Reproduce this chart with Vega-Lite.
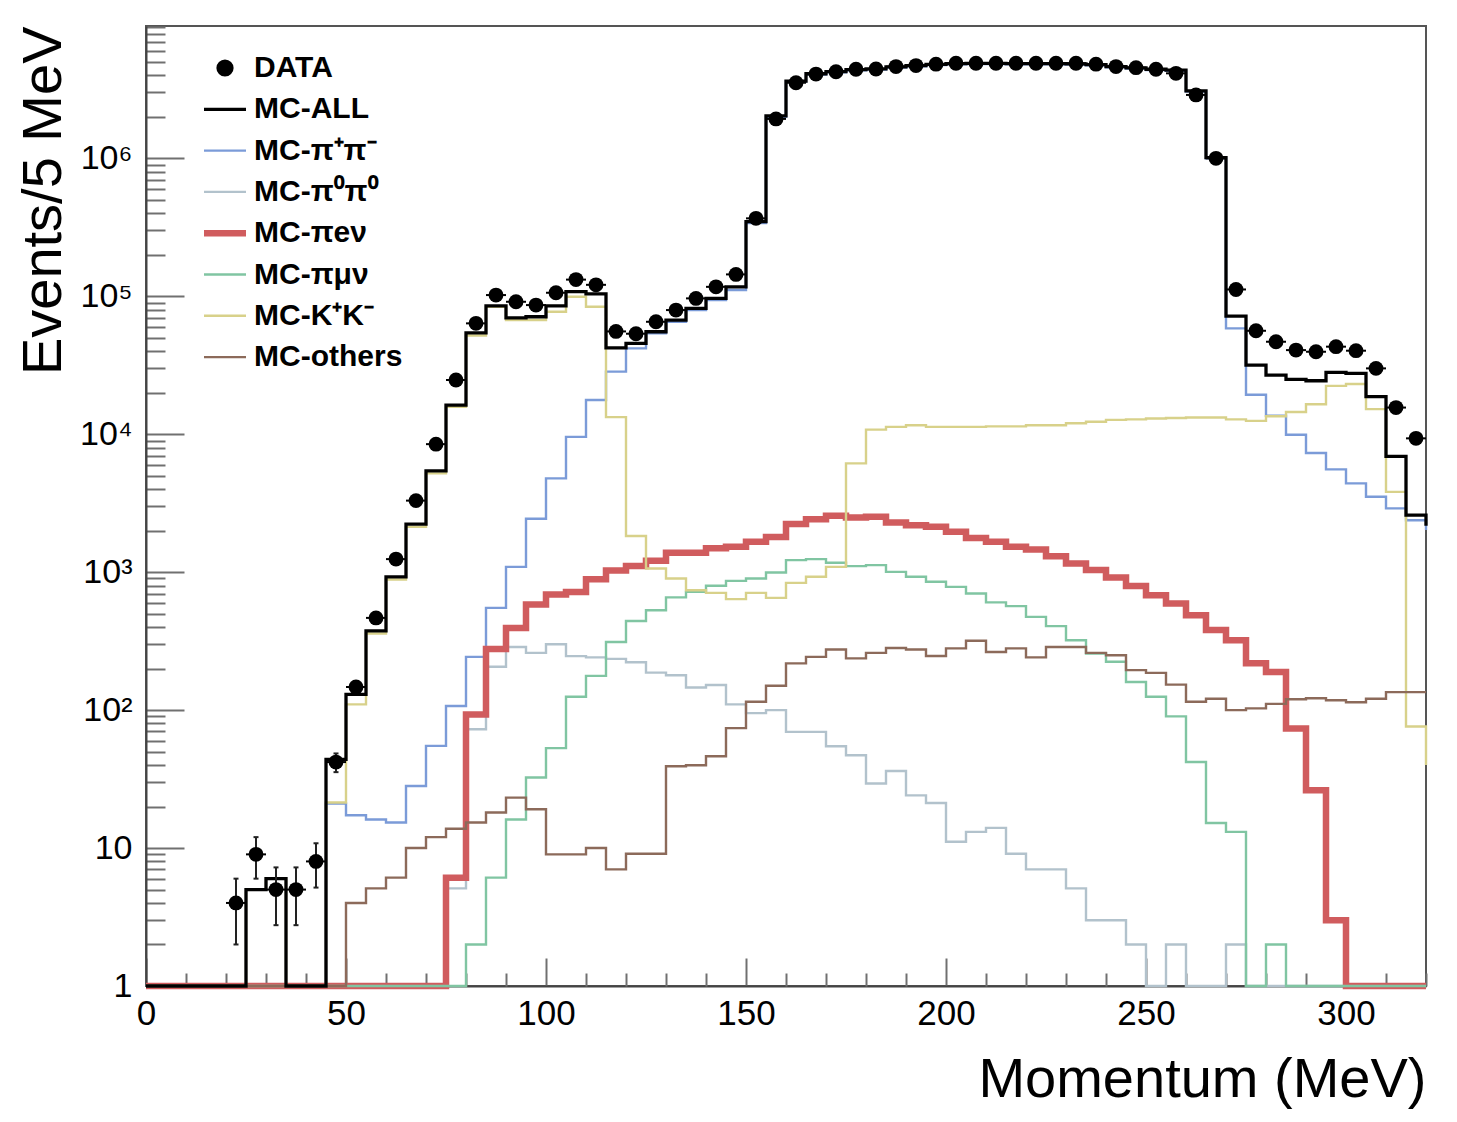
{
"$schema": "https://vega.github.io/schema/vega-lite/v6.json",
"width": 1280, "height": 960,
"autosize": {"type": "none"},
"padding": {"left": 146, "top": 26, "right": 31, "bottom": 136},
"background": "white",
"config": {
 "view": {"stroke": "#555555", "strokeWidth": 2},
 "font": "Liberation Sans",
 "axis": {"labelFont": "Liberation Sans", "labelFontSize": 35, "labelColor": "black", "titleFont": "Liberation Sans", "titleFontSize": 56, "titleFontWeight": "normal", "titleColor": "black", "tickColor": "#707070", "tickWidth": 2, "domainColor": "#444444", "domainWidth": 2, "grid": false, "labelOverlap": false, "labelFlush": false}
},
"resolve": {"axis": {"x": "independent"}},
"datasets": {
"hist": [
{"series":"MC-π⁺π⁻","p":0,"n":1},{"series":"MC-π⁺π⁻","p":5,"n":1},{"series":"MC-π⁺π⁻","p":10,"n":1},{"series":"MC-π⁺π⁻","p":15,"n":1},{"series":"MC-π⁺π⁻","p":20,"n":1},{"series":"MC-π⁺π⁻","p":25,"n":1},{"series":"MC-π⁺π⁻","p":30,"n":1},{"series":"MC-π⁺π⁻","p":35,"n":1},{"series":"MC-π⁺π⁻","p":40,"n":1},{"series":"MC-π⁺π⁻","p":45,"n":21},
{"series":"MC-π⁺π⁻","p":50,"n":17.3},{"series":"MC-π⁺π⁻","p":55,"n":16.1},{"series":"MC-π⁺π⁻","p":60,"n":15.3},{"series":"MC-π⁺π⁻","p":65,"n":28.2},{"series":"MC-π⁺π⁻","p":70,"n":55},{"series":"MC-π⁺π⁻","p":75,"n":107},{"series":"MC-π⁺π⁻","p":80,"n":243},{"series":"MC-π⁺π⁻","p":85,"n":551},{"series":"MC-π⁺π⁻","p":90,"n":1092},{"series":"MC-π⁺π⁻","p":95,"n":2440},
{"series":"MC-π⁺π⁻","p":100,"n":4780},{"series":"MC-π⁺π⁻","p":105,"n":9570},{"series":"MC-π⁺π⁻","p":110,"n":17700},{"series":"MC-π⁺π⁻","p":115,"n":28400},{"series":"MC-π⁺π⁻","p":120,"n":41900},{"series":"MC-π⁺π⁻","p":125,"n":53800},{"series":"MC-π⁺π⁻","p":130,"n":65300},{"series":"MC-π⁺π⁻","p":135,"n":79400},{"series":"MC-π⁺π⁻","p":140,"n":94000},{"series":"MC-π⁺π⁻","p":145,"n":111000},
{"series":"MC-π⁺π⁻","p":150,"n":340000},{"series":"MC-π⁺π⁻","p":155,"n":2000000},{"series":"MC-π⁺π⁻","p":160,"n":3600000},{"series":"MC-π⁺π⁻","p":165,"n":4050000},{"series":"MC-π⁺π⁻","p":170,"n":4200000},{"series":"MC-π⁺π⁻","p":175,"n":4350000},{"series":"MC-π⁺π⁻","p":180,"n":4400000},{"series":"MC-π⁺π⁻","p":185,"n":4550000},{"series":"MC-π⁺π⁻","p":190,"n":4650000},{"series":"MC-π⁺π⁻","p":195,"n":4750000},
{"series":"MC-π⁺π⁻","p":200,"n":4800000},{"series":"MC-π⁺π⁻","p":205,"n":4830000},{"series":"MC-π⁺π⁻","p":210,"n":4830000},{"series":"MC-π⁺π⁻","p":215,"n":4810000},{"series":"MC-π⁺π⁻","p":220,"n":4810000},{"series":"MC-π⁺π⁻","p":225,"n":4800000},{"series":"MC-π⁺π⁻","p":230,"n":4790000},{"series":"MC-π⁺π⁻","p":235,"n":4730000},{"series":"MC-π⁺π⁻","p":240,"n":4570000},{"series":"MC-π⁺π⁻","p":245,"n":4470000},
{"series":"MC-π⁺π⁻","p":250,"n":4370000},{"series":"MC-π⁺π⁻","p":255,"n":4300000},{"series":"MC-π⁺π⁻","p":260,"n":3050000},{"series":"MC-π⁺π⁻","p":265,"n":1000000},{"series":"MC-π⁺π⁻","p":270,"n":58500},{"series":"MC-π⁺π⁻","p":275,"n":19300},{"series":"MC-π⁺π⁻","p":280,"n":13600},{"series":"MC-π⁺π⁻","p":285,"n":9900},{"series":"MC-π⁺π⁻","p":290,"n":7300},{"series":"MC-π⁺π⁻","p":295,"n":5560},
{"series":"MC-π⁺π⁻","p":300,"n":4400},{"series":"MC-π⁺π⁻","p":305,"n":3520},{"series":"MC-π⁺π⁻","p":310,"n":2900},{"series":"MC-π⁺π⁻","p":315,"n":2380},{"series":"MC-π⁺π⁻","p":320,"n":2020},

{"series":"MC-π⁰π⁰","p":0,"n":1},{"series":"MC-π⁰π⁰","p":5,"n":1},{"series":"MC-π⁰π⁰","p":10,"n":1},{"series":"MC-π⁰π⁰","p":15,"n":1},{"series":"MC-π⁰π⁰","p":20,"n":1},{"series":"MC-π⁰π⁰","p":25,"n":1},{"series":"MC-π⁰π⁰","p":30,"n":1},{"series":"MC-π⁰π⁰","p":35,"n":1},{"series":"MC-π⁰π⁰","p":40,"n":1},{"series":"MC-π⁰π⁰","p":45,"n":1},
{"series":"MC-π⁰π⁰","p":50,"n":1},{"series":"MC-π⁰π⁰","p":55,"n":1},{"series":"MC-π⁰π⁰","p":60,"n":1},{"series":"MC-π⁰π⁰","p":65,"n":1},{"series":"MC-π⁰π⁰","p":70,"n":1},{"series":"MC-π⁰π⁰","p":75,"n":5.1},{"series":"MC-π⁰π⁰","p":80,"n":72.7},{"series":"MC-π⁰π⁰","p":85,"n":206},{"series":"MC-π⁰π⁰","p":90,"n":287},{"series":"MC-π⁰π⁰","p":95,"n":260},
{"series":"MC-π⁰π⁰","p":100,"n":300},{"series":"MC-π⁰π⁰","p":105,"n":246},{"series":"MC-π⁰π⁰","p":110,"n":241},{"series":"MC-π⁰π⁰","p":115,"n":235},{"series":"MC-π⁰π⁰","p":120,"n":222},{"series":"MC-π⁰π⁰","p":125,"n":187},{"series":"MC-π⁰π⁰","p":130,"n":179},{"series":"MC-π⁰π⁰","p":135,"n":146},{"series":"MC-π⁰π⁰","p":140,"n":152},{"series":"MC-π⁰π⁰","p":145,"n":110},
{"series":"MC-π⁰π⁰","p":150,"n":95},{"series":"MC-π⁰π⁰","p":155,"n":100},{"series":"MC-π⁰π⁰","p":160,"n":69.5},{"series":"MC-π⁰π⁰","p":165,"n":69.5},{"series":"MC-π⁰π⁰","p":170,"n":54.7},{"series":"MC-π⁰π⁰","p":175,"n":47.1},{"series":"MC-π⁰π⁰","p":180,"n":29.4},{"series":"MC-π⁰π⁰","p":185,"n":36.2},{"series":"MC-π⁰π⁰","p":190,"n":24.1},{"series":"MC-π⁰π⁰","p":195,"n":21.2},
{"series":"MC-π⁰π⁰","p":200,"n":11.1},{"series":"MC-π⁰π⁰","p":205,"n":13.1},{"series":"MC-π⁰π⁰","p":210,"n":14},{"series":"MC-π⁰π⁰","p":215,"n":9.1},{"series":"MC-π⁰π⁰","p":220,"n":7},{"series":"MC-π⁰π⁰","p":225,"n":7},{"series":"MC-π⁰π⁰","p":230,"n":5.1},{"series":"MC-π⁰π⁰","p":235,"n":3},{"series":"MC-π⁰π⁰","p":240,"n":3},{"series":"MC-π⁰π⁰","p":245,"n":2},
{"series":"MC-π⁰π⁰","p":250,"n":1},{"series":"MC-π⁰π⁰","p":255,"n":2},{"series":"MC-π⁰π⁰","p":260,"n":1},{"series":"MC-π⁰π⁰","p":265,"n":1},{"series":"MC-π⁰π⁰","p":270,"n":2},{"series":"MC-π⁰π⁰","p":275,"n":1},{"series":"MC-π⁰π⁰","p":280,"n":1},{"series":"MC-π⁰π⁰","p":285,"n":1},{"series":"MC-π⁰π⁰","p":290,"n":1},{"series":"MC-π⁰π⁰","p":295,"n":1},
{"series":"MC-π⁰π⁰","p":300,"n":1},{"series":"MC-π⁰π⁰","p":305,"n":1},{"series":"MC-π⁰π⁰","p":310,"n":1},{"series":"MC-π⁰π⁰","p":315,"n":1},{"series":"MC-π⁰π⁰","p":320,"n":1},

{"series":"MC-πeν","p":0,"n":1},{"series":"MC-πeν","p":5,"n":1},{"series":"MC-πeν","p":10,"n":1},{"series":"MC-πeν","p":15,"n":1},{"series":"MC-πeν","p":20,"n":1},{"series":"MC-πeν","p":25,"n":1},{"series":"MC-πeν","p":30,"n":1},{"series":"MC-πeν","p":35,"n":1},{"series":"MC-πeν","p":40,"n":1},{"series":"MC-πeν","p":45,"n":1},
{"series":"MC-πeν","p":50,"n":1},{"series":"MC-πeν","p":55,"n":1},{"series":"MC-πeν","p":60,"n":1},{"series":"MC-πeν","p":65,"n":1},{"series":"MC-πeν","p":70,"n":1},{"series":"MC-πeν","p":75,"n":6.1},{"series":"MC-πeν","p":80,"n":93},{"series":"MC-πeν","p":85,"n":277},{"series":"MC-πeν","p":90,"n":394},{"series":"MC-πeν","p":95,"n":583},
{"series":"MC-πeν","p":100,"n":689},{"series":"MC-πeν","p":105,"n":719},{"series":"MC-πeν","p":110,"n":890},{"series":"MC-πeν","p":115,"n":1030},{"series":"MC-πeν","p":120,"n":1110},{"series":"MC-πeν","p":125,"n":1210},{"series":"MC-πeν","p":130,"n":1380},{"series":"MC-πeν","p":135,"n":1380},{"series":"MC-πeν","p":140,"n":1490},{"series":"MC-πeν","p":145,"n":1530},
{"series":"MC-πeν","p":150,"n":1660},{"series":"MC-πeν","p":155,"n":1800},{"series":"MC-πeν","p":160,"n":2230},{"series":"MC-πeν","p":165,"n":2420},{"series":"MC-πeν","p":170,"n":2560},{"series":"MC-πeν","p":175,"n":2490},{"series":"MC-πeν","p":180,"n":2520},{"series":"MC-πeν","p":185,"n":2290},{"series":"MC-πeν","p":190,"n":2190},{"series":"MC-πeν","p":195,"n":2130},
{"series":"MC-πeν","p":200,"n":1960},{"series":"MC-πeν","p":205,"n":1770},{"series":"MC-πeν","p":210,"n":1660},{"series":"MC-πeν","p":215,"n":1530},{"series":"MC-πeν","p":220,"n":1460},{"series":"MC-πeν","p":225,"n":1306},{"series":"MC-πeν","p":230,"n":1156},{"series":"MC-πeν","p":235,"n":1035},{"series":"MC-πeν","p":240,"n":915},{"series":"MC-πeν","p":245,"n":792},
{"series":"MC-πeν","p":250,"n":681},{"series":"MC-πeν","p":255,"n":593},{"series":"MC-πeν","p":260,"n":488},{"series":"MC-πeν","p":265,"n":380},{"series":"MC-πeν","p":270,"n":321},{"series":"MC-πeν","p":275,"n":219},{"series":"MC-πeν","p":280,"n":189},{"series":"MC-πeν","p":285,"n":73.5},{"series":"MC-πeν","p":290,"n":26.2},{"series":"MC-πeν","p":295,"n":3},
{"series":"MC-πeν","p":300,"n":1},{"series":"MC-πeν","p":305,"n":1},{"series":"MC-πeν","p":310,"n":1},{"series":"MC-πeν","p":315,"n":1},{"series":"MC-πeν","p":320,"n":1},

{"series":"MC-πμν","p":0,"n":1},{"series":"MC-πμν","p":5,"n":1},{"series":"MC-πμν","p":10,"n":1},{"series":"MC-πμν","p":15,"n":1},{"series":"MC-πμν","p":20,"n":1},{"series":"MC-πμν","p":25,"n":1},{"series":"MC-πμν","p":30,"n":1},{"series":"MC-πμν","p":35,"n":1},{"series":"MC-πμν","p":40,"n":1},{"series":"MC-πμν","p":45,"n":1},
{"series":"MC-πμν","p":50,"n":1},{"series":"MC-πμν","p":55,"n":1},{"series":"MC-πμν","p":60,"n":1},{"series":"MC-πμν","p":65,"n":1},{"series":"MC-πμν","p":70,"n":1},{"series":"MC-πμν","p":75,"n":1},{"series":"MC-πμν","p":80,"n":2},{"series":"MC-πμν","p":85,"n":6.1},{"series":"MC-πμν","p":90,"n":16.1},{"series":"MC-πμν","p":95,"n":32.5},
{"series":"MC-πμν","p":100,"n":53},{"series":"MC-πμν","p":105,"n":125},{"series":"MC-πμν","p":110,"n":177},{"series":"MC-πμν","p":115,"n":312},{"series":"MC-πμν","p":120,"n":443},{"series":"MC-πμν","p":125,"n":530},{"series":"MC-πμν","p":130,"n":656},{"series":"MC-πμν","p":135,"n":720},{"series":"MC-πμν","p":140,"n":796},{"series":"MC-πμν","p":145,"n":865},
{"series":"MC-πμν","p":150,"n":900},{"series":"MC-πμν","p":155,"n":994},{"series":"MC-πμν","p":160,"n":1222},{"series":"MC-πμν","p":165,"n":1243},{"series":"MC-πμν","p":170,"n":1169},{"series":"MC-πμν","p":175,"n":1105},{"series":"MC-πμν","p":180,"n":1124},{"series":"MC-πμν","p":185,"n":1005},{"series":"MC-πμν","p":190,"n":925},{"series":"MC-πμν","p":195,"n":851},
{"series":"MC-πμν","p":200,"n":782},{"series":"MC-πμν","p":205,"n":700},{"series":"MC-πμν","p":210,"n":604},{"series":"MC-πμν","p":215,"n":567},{"series":"MC-πμν","p":220,"n":474},{"series":"MC-πμν","p":225,"n":406},{"series":"MC-πμν","p":230,"n":321},{"series":"MC-πμν","p":235,"n":257},{"series":"MC-πμν","p":240,"n":224},{"series":"MC-πμν","p":245,"n":160},
{"series":"MC-πμν","p":250,"n":125},{"series":"MC-πμν","p":255,"n":90},{"series":"MC-πμν","p":260,"n":42},{"series":"MC-πμν","p":265,"n":15.2},{"series":"MC-πμν","p":270,"n":13.1},{"series":"MC-πμν","p":275,"n":1},{"series":"MC-πμν","p":280,"n":2},{"series":"MC-πμν","p":285,"n":1},{"series":"MC-πμν","p":290,"n":1},{"series":"MC-πμν","p":295,"n":1},
{"series":"MC-πμν","p":300,"n":1},{"series":"MC-πμν","p":305,"n":1},{"series":"MC-πμν","p":310,"n":1},{"series":"MC-πμν","p":315,"n":1},{"series":"MC-πμν","p":320,"n":1},

{"series":"MC-K⁺K⁻","p":0,"n":1},{"series":"MC-K⁺K⁻","p":5,"n":1},{"series":"MC-K⁺K⁻","p":10,"n":1},{"series":"MC-K⁺K⁻","p":15,"n":1},{"series":"MC-K⁺K⁻","p":20,"n":1},{"series":"MC-K⁺K⁻","p":25,"n":5},{"series":"MC-K⁺K⁻","p":30,"n":6},{"series":"MC-K⁺K⁻","p":35,"n":1},{"series":"MC-K⁺K⁻","p":40,"n":1},{"series":"MC-K⁺K⁻","p":45,"n":21.4},
{"series":"MC-K⁺K⁻","p":50,"n":110},{"series":"MC-K⁺K⁻","p":55,"n":359},{"series":"MC-K⁺K⁻","p":60,"n":885},{"series":"MC-K⁺K⁻","p":65,"n":2130},{"series":"MC-K⁺K⁻","p":70,"n":5200},{"series":"MC-K⁺K⁻","p":75,"n":15800},{"series":"MC-K⁺K⁻","p":80,"n":52000},{"series":"MC-K⁺K⁻","p":85,"n":84000},{"series":"MC-K⁺K⁻","p":90,"n":67200},{"series":"MC-K⁺K⁻","p":95,"n":67200},
{"series":"MC-K⁺K⁻","p":100,"n":77200},{"series":"MC-K⁺K⁻","p":105,"n":99100},{"series":"MC-K⁺K⁻","p":110,"n":84000},{"series":"MC-K⁺K⁻","p":115,"n":13300},{"series":"MC-K⁺K⁻","p":120,"n":1830},{"series":"MC-K⁺K⁻","p":125,"n":1064},{"series":"MC-K⁺K⁻","p":130,"n":900},{"series":"MC-K⁺K⁻","p":135,"n":740},{"series":"MC-K⁺K⁻","p":140,"n":708},{"series":"MC-K⁺K⁻","p":145,"n":637},
{"series":"MC-K⁺K⁻","p":150,"n":708},{"series":"MC-K⁺K⁻","p":155,"n":651},{"series":"MC-K⁺K⁻","p":160,"n":836},{"series":"MC-K⁺K⁻","p":165,"n":925},{"series":"MC-K⁺K⁻","p":170,"n":1092},{"series":"MC-K⁺K⁻","p":175,"n":6140},{"series":"MC-K⁺K⁻","p":180,"n":10800},{"series":"MC-K⁺K⁻","p":185,"n":11300},{"series":"MC-K⁺K⁻","p":190,"n":11600},{"series":"MC-K⁺K⁻","p":195,"n":11300},
{"series":"MC-K⁺K⁻","p":200,"n":11300},{"series":"MC-K⁺K⁻","p":205,"n":11300},{"series":"MC-K⁺K⁻","p":210,"n":11400},{"series":"MC-K⁺K⁻","p":215,"n":11400},{"series":"MC-K⁺K⁻","p":220,"n":11600},{"series":"MC-K⁺K⁻","p":225,"n":11600},{"series":"MC-K⁺K⁻","p":230,"n":12000},{"series":"MC-K⁺K⁻","p":235,"n":12300},{"series":"MC-K⁺K⁻","p":240,"n":12700},{"series":"MC-K⁺K⁻","p":245,"n":12800},
{"series":"MC-K⁺K⁻","p":250,"n":13000},{"series":"MC-K⁺K⁻","p":255,"n":13100},{"series":"MC-K⁺K⁻","p":260,"n":13200},{"series":"MC-K⁺K⁻","p":265,"n":13200},{"series":"MC-K⁺K⁻","p":270,"n":12800},{"series":"MC-K⁺K⁻","p":275,"n":12500},{"series":"MC-K⁺K⁻","p":280,"n":13500},{"series":"MC-K⁺K⁻","p":285,"n":14500},{"series":"MC-K⁺K⁻","p":290,"n":16500},{"series":"MC-K⁺K⁻","p":295,"n":22400},
{"series":"MC-K⁺K⁻","p":300,"n":23100},{"series":"MC-K⁺K⁻","p":305,"n":15200},{"series":"MC-K⁺K⁻","p":310,"n":3820},{"series":"MC-K⁺K⁻","p":315,"n":76},{"series":"MC-K⁺K⁻","p":320,"n":40},

{"series":"MC-others","p":0,"n":1},{"series":"MC-others","p":5,"n":1},{"series":"MC-others","p":10,"n":1},{"series":"MC-others","p":15,"n":1},{"series":"MC-others","p":20,"n":1},{"series":"MC-others","p":25,"n":1},{"series":"MC-others","p":30,"n":1},{"series":"MC-others","p":35,"n":1},{"series":"MC-others","p":40,"n":1},{"series":"MC-others","p":45,"n":1},
{"series":"MC-others","p":50,"n":4},{"series":"MC-others","p":55,"n":5.1},{"series":"MC-others","p":60,"n":6.1},{"series":"MC-others","p":65,"n":10},{"series":"MC-others","p":70,"n":12},{"series":"MC-others","p":75,"n":13.8},{"series":"MC-others","p":80,"n":15.3},{"series":"MC-others","p":85,"n":18.1},{"series":"MC-others","p":90,"n":23.2},{"series":"MC-others","p":95,"n":19.1},
{"series":"MC-others","p":100,"n":9},{"series":"MC-others","p":105,"n":9},{"series":"MC-others","p":110,"n":10},{"series":"MC-others","p":115,"n":7},{"series":"MC-others","p":120,"n":9.1},{"series":"MC-others","p":125,"n":9.1},{"series":"MC-others","p":130,"n":39.2},{"series":"MC-others","p":135,"n":39.8},{"series":"MC-others","p":140,"n":46.3},{"series":"MC-others","p":145,"n":74},
{"series":"MC-others","p":150,"n":115},{"series":"MC-others","p":155,"n":150},{"series":"MC-others","p":160,"n":218},{"series":"MC-others","p":165,"n":243},{"series":"MC-others","p":170,"n":275},{"series":"MC-others","p":175,"n":237},{"series":"MC-others","p":180,"n":260},{"series":"MC-others","p":185,"n":282},{"series":"MC-others","p":190,"n":275},{"series":"MC-others","p":195,"n":247},
{"series":"MC-others","p":200,"n":280},{"series":"MC-others","p":205,"n":318},{"series":"MC-others","p":210,"n":264},{"series":"MC-others","p":215,"n":280},{"series":"MC-others","p":220,"n":241},{"series":"MC-others","p":225,"n":287},{"series":"MC-others","p":230,"n":287},{"series":"MC-others","p":235,"n":260},{"series":"MC-others","p":240,"n":250},{"series":"MC-others","p":245,"n":195},
{"series":"MC-others","p":250,"n":186},{"series":"MC-others","p":255,"n":153},{"series":"MC-others","p":260,"n":115},{"series":"MC-others","p":265,"n":121},{"series":"MC-others","p":270,"n":100},{"series":"MC-others","p":275,"n":103},{"series":"MC-others","p":280,"n":111},{"series":"MC-others","p":285,"n":120},{"series":"MC-others","p":290,"n":122},{"series":"MC-others","p":295,"n":118},
{"series":"MC-others","p":300,"n":114},{"series":"MC-others","p":305,"n":121},{"series":"MC-others","p":310,"n":135},{"series":"MC-others","p":315,"n":135},{"series":"MC-others","p":320,"n":135},

{"series":"MC-ALL","p":0,"n":1},{"series":"MC-ALL","p":5,"n":1},{"series":"MC-ALL","p":10,"n":1},{"series":"MC-ALL","p":15,"n":1},{"series":"MC-ALL","p":20,"n":1},{"series":"MC-ALL","p":25,"n":5},{"series":"MC-ALL","p":30,"n":6},{"series":"MC-ALL","p":35,"n":1},{"series":"MC-ALL","p":40,"n":1},{"series":"MC-ALL","p":45,"n":44},
{"series":"MC-ALL","p":50,"n":130},{"series":"MC-ALL","p":55,"n":375},{"series":"MC-ALL","p":60,"n":925},{"series":"MC-ALL","p":65,"n":2230},{"series":"MC-ALL","p":70,"n":5430},{"series":"MC-ALL","p":75,"n":16250},{"series":"MC-ALL","p":80,"n":54300},{"series":"MC-ALL","p":85,"n":85300},{"series":"MC-ALL","p":90,"n":69800},{"series":"MC-ALL","p":95,"n":71000},
{"series":"MC-ALL","p":100,"n":85300},{"series":"MC-ALL","p":105,"n":108000},{"series":"MC-ALL","p":110,"n":104000},{"series":"MC-ALL","p":115,"n":42300},{"series":"MC-ALL","p":120,"n":45500},{"series":"MC-ALL","p":125,"n":55300},{"series":"MC-ALL","p":130,"n":67200},{"series":"MC-ALL","p":135,"n":81700},{"series":"MC-ALL","p":140,"n":96500},{"series":"MC-ALL","p":145,"n":117000},
{"series":"MC-ALL","p":150,"n":347000},{"series":"MC-ALL","p":155,"n":2030000},{"series":"MC-ALL","p":160,"n":3630000},{"series":"MC-ALL","p":165,"n":4100000},{"series":"MC-ALL","p":170,"n":4250000},{"series":"MC-ALL","p":175,"n":4400000},{"series":"MC-ALL","p":180,"n":4450000},{"series":"MC-ALL","p":185,"n":4600000},{"series":"MC-ALL","p":190,"n":4700000},{"series":"MC-ALL","p":195,"n":4800000},
{"series":"MC-ALL","p":200,"n":4850000},{"series":"MC-ALL","p":205,"n":4880000},{"series":"MC-ALL","p":210,"n":4880000},{"series":"MC-ALL","p":215,"n":4860000},{"series":"MC-ALL","p":220,"n":4860000},{"series":"MC-ALL","p":225,"n":4850000},{"series":"MC-ALL","p":230,"n":4840000},{"series":"MC-ALL","p":235,"n":4780000},{"series":"MC-ALL","p":240,"n":4620000},{"series":"MC-ALL","p":245,"n":4520000},
{"series":"MC-ALL","p":250,"n":4420000},{"series":"MC-ALL","p":255,"n":4350000},{"series":"MC-ALL","p":260,"n":3080000},{"series":"MC-ALL","p":265,"n":1010000},{"series":"MC-ALL","p":270,"n":71800},{"series":"MC-ALL","p":275,"n":31700},{"series":"MC-ALL","p":280,"n":26800},{"series":"MC-ALL","p":285,"n":25000},{"series":"MC-ALL","p":290,"n":24400},{"series":"MC-ALL","p":295,"n":28100},
{"series":"MC-ALL","p":300,"n":27600},{"series":"MC-ALL","p":305,"n":18700},{"series":"MC-ALL","p":310,"n":6900},{"series":"MC-ALL","p":315,"n":2590},{"series":"MC-ALL","p":320,"n":2170}
],
"pts": [
{"p":22.5,"pl":20,"pr":25,"n":4,"lo":2,"hi":6},
{"p":27.5,"pl":25,"pr":30,"n":9,"lo":6,"hi":12},
{"p":32.5,"pl":30,"pr":35,"n":5,"lo":2.76,"hi":7.24},
{"p":37.5,"pl":35,"pr":40,"n":5,"lo":2.76,"hi":7.24},
{"p":42.5,"pl":40,"pr":45,"n":8,"lo":5.17,"hi":10.83},
{"p":47.5,"pl":45,"pr":50,"n":42,"lo":35.5,"hi":48.5},
{"p":52.5,"pl":50,"pr":55,"n":147},
{"p":57.5,"pl":55,"pr":60,"n":466},
{"p":62.5,"pl":60,"pr":65,"n":1243},
{"p":67.5,"pl":65,"pr":70,"n":3300},
{"p":72.5,"pl":70,"pr":75,"n":8470},
{"p":77.5,"pl":75,"pr":80,"n":24700},
{"p":82.5,"pl":80,"pr":85,"n":63600},
{"p":87.5,"pl":85,"pr":90,"n":102000},
{"p":92.5,"pl":90,"pr":95,"n":91200},
{"p":97.5,"pl":95,"pr":100,"n":86300},
{"p":102.5,"pl":100,"pr":105,"n":106000},
{"p":107.5,"pl":105,"pr":110,"n":132000},
{"p":112.5,"pl":110,"pr":115,"n":121000},
{"p":117.5,"pl":115,"pr":120,"n":55600},
{"p":122.5,"pl":120,"pr":125,"n":53500},
{"p":127.5,"pl":125,"pr":130,"n":65300},
{"p":132.5,"pl":130,"pr":135,"n":79400},
{"p":137.5,"pl":135,"pr":140,"n":96500},
{"p":142.5,"pl":140,"pr":145,"n":117000},
{"p":147.5,"pl":145,"pr":150,"n":144000},
{"p":152.5,"pl":150,"pr":155,"n":367000},
{"p":157.5,"pl":155,"pr":160,"n":1930000},
{"p":162.5,"pl":160,"pr":165,"n":3530000},
{"p":167.5,"pl":165,"pr":170,"n":4080000},
{"p":172.5,"pl":170,"pr":175,"n":4240000},
{"p":177.5,"pl":175,"pr":180,"n":4420000},
{"p":182.5,"pl":180,"pr":185,"n":4440000},
{"p":187.5,"pl":185,"pr":190,"n":4620000},
{"p":192.5,"pl":190,"pr":195,"n":4700000},
{"p":197.5,"pl":195,"pr":200,"n":4810000},
{"p":202.5,"pl":200,"pr":205,"n":4890000},
{"p":207.5,"pl":205,"pr":210,"n":4890000},
{"p":212.5,"pl":210,"pr":215,"n":4890000},
{"p":217.5,"pl":215,"pr":220,"n":4890000},
{"p":222.5,"pl":220,"pr":225,"n":4890000},
{"p":227.5,"pl":225,"pr":230,"n":4890000},
{"p":232.5,"pl":230,"pr":235,"n":4890000},
{"p":237.5,"pl":235,"pr":240,"n":4810000},
{"p":242.5,"pl":240,"pr":245,"n":4620000},
{"p":247.5,"pl":245,"pr":250,"n":4540000},
{"p":252.5,"pl":250,"pr":255,"n":4420000},
{"p":257.5,"pl":255,"pr":260,"n":4130000},
{"p":262.5,"pl":260,"pr":265,"n":2880000},
{"p":267.5,"pl":265,"pr":270,"n":1000000},
{"p":272.5,"pl":270,"pr":275,"n":112000},
{"p":277.5,"pl":275,"pr":280,"n":56200},
{"p":282.5,"pl":280,"pr":285,"n":46800},
{"p":287.5,"pl":285,"pr":290,"n":40700},
{"p":292.5,"pl":290,"pr":295,"n":39600},
{"p":297.5,"pl":295,"pr":300,"n":43100},
{"p":302.5,"pl":300,"pr":305,"n":40300},
{"p":307.5,"pl":305,"pr":310,"n":30000},
{"p":312.5,"pl":310,"pr":315,"n":15600},
{"p":317.5,"pl":315,"pr":320,"n":9330}
]
},
"layer": [
{
 "data": {"name": "hist"},
 "mark": {"type": "line", "interpolate": "step-after"},
 "encoding": {
  "x": {"field": "p", "type": "quantitative",
   "scale": {"domain": [0, 320], "nice": false, "zero": false},
   "axis": {"orient": "bottom", "title": "Momentum (MeV)", "titleAnchor": "end", "titlePadding": 21,
    "values": [0,50,100,150,200,250,300],
    "tickSize": -28, "format": "d",
    "labelOverlap": false, "labelFlush": false,
    "labelPadding": 38}},
  "y": {"field": "n", "type": "quantitative",
   "scale": {"type": "log", "domain": [1, 9100000], "nice": false},
   "axis": {"title": "Events/5 MeV", "titleAnchor": "end", "titlePadding": 7,
    "values": [1,2,3,4,5,6,7,8,9,10,20,30,40,50,60,70,80,90,100,200,300,400,500,600,700,800,900,1000,2000,3000,4000,5000,6000,7000,8000,9000,10000,20000,30000,40000,50000,60000,70000,80000,90000,100000,200000,300000,400000,500000,600000,700000,800000,900000,1000000,2000000,3000000,4000000,5000000,6000000,7000000,8000000,9000000],
    "tickSize": {"condition": {"test": "indexof([1,10,100,1000,10000,100000,1000000], datum.value) >= 0", "value": -38}, "value": -19},
    "labelExpr": "datum.value == 1 ? '1' : datum.value == 10 ? '10' : datum.value == 100 ? '10²' : datum.value == 1000 ? '10³' : datum.value == 10000 ? '10⁴' : datum.value == 100000 ? '10⁵' : datum.value == 1000000 ? '10⁶' : ''",
    "labelOverlap": false, "labelFontSize": 34,
    "labelPadding": 52}},
  "color": {"field": "series", "type": "nominal",
   "scale": {"domain": ["DATA","MC-ALL","MC-π⁺π⁻","MC-π⁰π⁰","MC-πeν","MC-πμν","MC-K⁺K⁻","MC-others"],
             "range": ["#000000","#000000","#7b9bd8","#b2c2cc","#d05c5e","#80c5a2","#d8d18a","#8c6a5a"]},
   "legend": {"title": null, "orient": "none", "legendX": 64, "legendY": 27, "padding": 0,
    "symbolType": "stroke", "symbolSize": 1764, "symbolStrokeWidth": 2.2,
    "labelFont": "Liberation Sans", "labelFontSize": 30, "labelFontWeight": "bold", "labelColor": "black",
    "labelOffset": 14, "labelLimit": 400, "rowPadding": 11.3,
    "encode": {"symbols": {"update": {
      "shape": {"signal": "datum.value === 'DATA' ? 'circle' : 'stroke'"},
      "size": {"signal": "datum.value === 'DATA' ? 220 : 1764"},
      "fill": {"signal": "datum.value === 'DATA' ? 'black' : 'transparent'"},
      "stroke": {"signal": "datum.value === 'DATA' ? 'transparent' : scale('color', datum.value)"},
      "strokeWidth": {"signal": "datum.value === 'MC-πeν' ? 6.5 : (datum.value === 'MC-ALL' ? 3.3 : 2.4)"},
      "opacity": {"value": 1}
    }}}}},
  "strokeWidth": {"field": "series", "type": "nominal",
   "scale": {"type": "ordinal", "domain": ["MC-ALL","MC-π⁺π⁻","MC-π⁰π⁰","MC-πeν","MC-πμν","MC-K⁺K⁻","MC-others"], "range": [3.3,2.4,2.4,6.5,2.4,2.4,2.4]},
   "legend": null}
 }
},
{
 "data": {"name": "pts"},
 "mark": {"type": "rule", "color": "black", "strokeWidth": 2},
 "encoding": {
  "x": {"field": "pl", "type": "quantitative",
   "axis": {"orient": "bottom", "title": null, "labels": false, "domain": false,
    "values": [10,20,30,40,60,70,80,90,110,120,130,140,160,170,180,190,210,220,230,240,260,270,280,290,310,320],
    "tickSize": -13}},
  "x2": {"field": "pr"},
  "y": {"field": "n", "type": "quantitative"}}
},
{
 "data": {"name": "pts"},
 "transform": [{"filter": "isValid(datum.lo)"}],
 "mark": {"type": "rule", "color": "#222222", "strokeWidth": 2},
 "encoding": {"x": {"field": "p", "type": "quantitative", "axis": null}, "y": {"field": "lo", "type": "quantitative"}, "y2": {"field": "hi"}}
},
{
 "data": {"name": "pts"},
 "transform": [{"filter": "isValid(datum.lo)"}],
 "mark": {"type": "tick", "orient": "horizontal", "color": "#222222", "size": 5, "thickness": 2, "opacity": 1},
 "encoding": {"x": {"field": "p", "type": "quantitative", "axis": null}, "y": {"field": "lo", "type": "quantitative"}}
},
{
 "data": {"name": "pts"},
 "transform": [{"filter": "isValid(datum.lo)"}],
 "mark": {"type": "tick", "orient": "horizontal", "color": "#222222", "size": 5, "thickness": 2, "opacity": 1},
 "encoding": {"x": {"field": "p", "type": "quantitative", "axis": null}, "y": {"field": "hi", "type": "quantitative"}}
},
{
 "data": {"name": "pts"},
 "mark": {"type": "point", "shape": "circle", "filled": true, "size": 220, "opacity": 1, "color": "black", "strokeWidth": 0},
 "encoding": {"x": {"field": "p", "type": "quantitative", "axis": null}, "y": {"field": "n", "type": "quantitative"}}
}
]
}
